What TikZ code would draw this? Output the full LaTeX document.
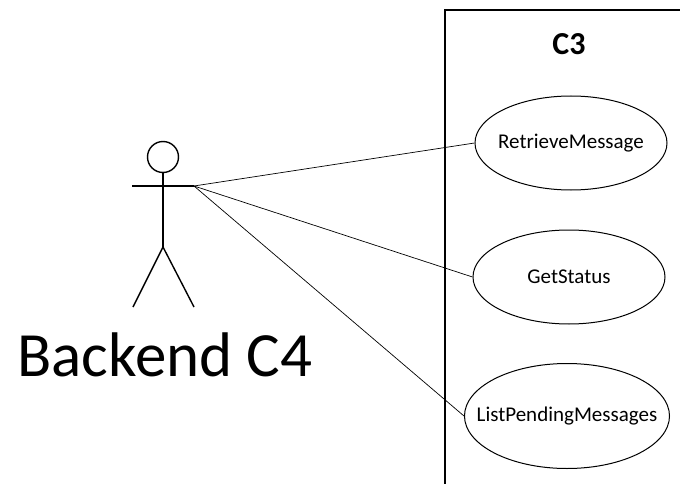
\documentclass[tikz,border=0pt]{standalone}
\usepackage{fontspec}
\setmainfont{Carlito}
\usetikzlibrary{shapes.geometric}
\begin{document}
\begin{tikzpicture}[x=1pt,y=-1pt,
  usecase/.style={draw,ellipse,line width=1pt,inner xsep=-30pt,inner ysep=0pt,font=\fontsize{21}{23}\selectfont},
  actorline/.style={line width=1.4pt},
  link/.style={line width=0.7pt}]
\useasboundingbox (0,0) rectangle (680,484);
% system boundary
\draw[line width=1.5pt] (445,490) -- (445,10) -- (690,10);
\node[font=\bfseries\fontsize{32}{35}\selectfont] (sys) at (569,44) {C3};
% use cases
\node[usecase,minimum width=192pt,minimum height=94pt] (e1) at (571,143) {RetrieveMessage};
\node[usecase,minimum width=192pt,minimum height=94pt] (e2) at (569,277) {GetStatus};
\node[usecase,minimum width=205pt,minimum height=105pt] (e3) at (567,416) {ListPendingMessages};
% actor
\node[draw,circle,line width=1.4pt,minimum size=31pt,inner sep=0pt] (head) at (163,157) {};
\coordinate (lhand) at (132,186);
\coordinate (rhand) at (194,186);
\coordinate (hip) at (163,247);
\coordinate (lfoot) at (133,307);
\coordinate (rfoot) at (194,307);
\draw[actorline] (head.south) -- (hip);
\draw[actorline] (lhand) -- (rhand);
\draw[actorline] (lfoot) -- (hip) -- (rfoot);
\node[font=\fontsize{63}{66}\selectfont] (actor) at (165,355) {Backend C4};
% connectors
\draw[link] (rhand) -- (e1.west);
\draw[link] (rhand) -- (e2.west);
\draw[link] (rhand) -- (e3.west);
\end{tikzpicture}
\end{document}
